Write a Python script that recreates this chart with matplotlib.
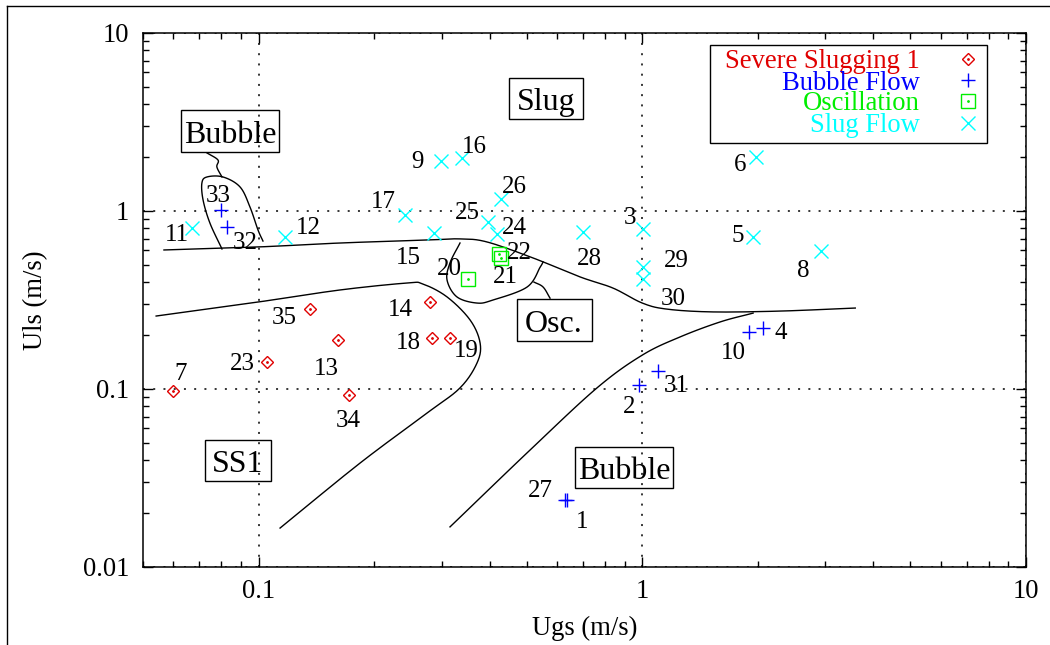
import numpy as np
import matplotlib
matplotlib.use('Agg')
import matplotlib.pyplot as plt
from matplotlib.lines import Line2D
from matplotlib.patches import Rectangle
from matplotlib.ticker import FixedLocator, FixedFormatter, LogLocator, NullFormatter

plt.rcParams['font.family'] = ['Liberation Serif', 'DejaVu Serif']

W, H = 1050, 645

# ---- measured points (Ugs, Uls in m/s) ----
ss1_ids = [7, 23, 35, 13, 34, 14, 18, 19]
ss1_ugs = [0.060, 0.105, 0.136, 0.161, 0.172, 0.280, 0.283, 0.316]
ss1_uls = [0.0975, 0.142, 0.281, 0.189, 0.0925, 0.308, 0.193, 0.193]

bub_ids = [33, 32, 2, 31, 27, 1, 10, 4]
bub_ugs = [0.080, 0.083, 0.981, 1.10, 0.629, 0.637, 1.90, 2.06]
bub_uls = [1.01, 0.813, 0.105, 0.126, 0.0238, 0.0238, 0.209, 0.220]

osc_ids = [20, 21, 22]
osc_ugs = [0.352, 0.428, 0.423]
osc_uls = [0.415, 0.545, 0.573]

slug_ids = [11, 12, 9, 16, 26, 17, 15, 25, 24, 28, 3, 29, 30, 6, 5, 8]
slug_ugs = [0.067, 0.117, 0.299, 0.339, 0.428, 0.241, 0.287, 0.396, 0.418,
            0.701, 1.005, 1.005, 1.005, 1.98, 1.945, 2.92]
slug_uls = [0.803, 0.714, 1.91, 1.99, 1.17, 0.950, 0.752, 0.868, 0.743,
            0.762, 0.792, 0.485, 0.415, 2.01, 0.714, 0.596]

# ---- flow regime boundaries ----
upper_ugs = [0.0567, 0.0997, 0.163, 0.275, 0.335, 0.394, 0.519, 0.689, 0.839,
             1.00, 1.16, 1.53, 2.29, 3.59]
upper_uls = [0.604, 0.628, 0.661, 0.687, 0.697, 0.670, 0.545, 0.426, 0.369,
             0.304, 0.281, 0.271, 0.274, 0.285]

ss1_bnd_ugs = [0.0541, 0.0997, 0.163, 0.244, 0.268, 0.310, 0.356, 0.378, 0.371,
               0.335, 0.275, 0.184, 0.1138]
ss1_bnd_uls = [0.257, 0.308, 0.360, 0.394, 0.389, 0.329, 0.244, 0.181, 0.140,
               0.1014, 0.0733, 0.0384, 0.01655]

bub_bnd_ugs = [0.3155, 0.510, 0.762, 1.00, 1.254, 1.595, 1.945]
bub_bnd_uls = [0.0168, 0.0454, 0.1014, 0.155, 0.196, 0.238, 0.267]

osc_bnd_ugs = [0.335, 0.3155, 0.310, 0.329, 0.371, 0.408, 0.501, 0.542, 0.5515]
osc_bnd_uls = [0.661, 0.511, 0.409, 0.329, 0.304, 0.316, 0.374, 0.484, 0.517]

bub_loop_ugs = [0.0803, 0.0747, 0.0717, 0.0712, 0.0734, 0.0808, 0.0895, 0.0950,
                0.0997, 0.1027]
bub_loop_uls = [0.612, 0.856, 1.153, 1.437, 1.553, 1.553, 1.365, 1.053, 0.782,
                0.678]

bub_lead_ugs = [0.0734, 0.0784, 0.0779, 0.0803]
bub_lead_uls = [2.12, 1.934, 1.767, 1.553]

osc_lead_ugs = [0.522, 0.5515, 0.575]
osc_lead_uls = [0.399, 0.374, 0.324]

# label offsets (pixels, dx, dy up) for the point numbers
label_offsets = {
    7: (7, 19), 23: (-24, 0), 35: (-26, -6), 13: (-12, -27), 34: (-1, -23),
    14: (-30, -5), 18: (-24, -2), 19: (16, -10),
    33: (-3, 17), 32: (18, -13), 2: (-10, -19), 31: (18, -12), 27: (-25, 11),
    1: (15, -20), 10: (-16, -18), 4: (18, -2),
    20: (-19, 12), 21: (5, -17), 22: (21, 4),
    11: (-15, -5), 12: (24, 12), 9: (-24, 1), 16: (12, 13), 26: (14, 14),
    17: (-22, 15), 15: (-26, -22), 25: (-21, 11), 24: (17, 8), 28: (6, -24),
    3: (-13, 14), 29: (33, 8), 30: (30, -18), 6: (-16, -5), 5: (-15, 4),
    8: (-18, -17),
}

RED, BLUE, GREEN, CYAN = '#e00000', '#0000ff', '#00ee00', '#00ffff'


def px(x, y):
    return x / W, 1 - y / H


def smooth(xs, ys, n=14):
    # catmull-rom through the traced points, done in log space
    p = np.column_stack([np.log10(xs), np.log10(ys)])
    p = np.vstack([2 * p[0] - p[1], p, 2 * p[-1] - p[-2]])
    t = np.linspace(0, 1, n, endpoint=False)[:, None]
    out = []
    for i in range(1, len(p) - 2):
        p0, p1, p2, p3 = p[i - 1], p[i], p[i + 1], p[i + 2]
        out.append(0.5 * (2 * p1 + (-p0 + p2) * t
                          + (2 * p0 - 5 * p1 + 4 * p2 - p3) * t ** 2
                          + (-p0 + 3 * p1 - 3 * p2 + p3) * t ** 3))
    out.append(p[-2][None])
    out = np.vstack(out)
    return 10 ** out[:, 0], 10 ** out[:, 1]


fig = plt.figure(figsize=(W / 100, H / 100), dpi=100)
ax = fig.add_axes([143 / W, 1 - 567 / H, 883 / W, 534 / H])
ax.set_xscale('log')
ax.set_yscale('log')
ax.set_xlim(0.05, 10)
ax.set_ylim(0.01, 10)

ax.xaxis.set_major_locator(FixedLocator([0.1, 1, 10]))
ax.xaxis.set_major_formatter(FixedFormatter(['0.1', '1', '10']))
ax.yaxis.set_major_locator(FixedLocator([0.01, 0.1, 1, 10]))
ax.yaxis.set_major_formatter(FixedFormatter(['0.01', '0.1', '1', '10']))
for a in (ax.xaxis, ax.yaxis):
    a.set_minor_locator(LogLocator(base=10, subs=range(2, 10)))
    a.set_minor_formatter(NullFormatter())
ax.tick_params(which='both', direction='in', top=True, right=True, width=1.0,
               labelsize=19.2)
ax.tick_params(which='major', length=7.5)
ax.tick_params(which='minor', length=4.3)
ax.tick_params(axis='y', pad=10)
ax.tick_params(axis='x', pad=9)
for s in ax.spines.values():
    s.set_linewidth(1.1)

ax.grid(True, which='major', color='black', linestyle=(0, (1.3, 5.4)), linewidth=1.1)

ax.set_xlabel('Ugs (m/s)', fontsize=19.2)
ax.set_ylabel('Uls (m/s)', fontsize=19.2)
ax.xaxis.set_label_coords((585 - 143) / 883, (567 - 625) / 534)
ax.xaxis.label.set_va('center_baseline')
ax.yaxis.set_label_coords((33 - 143) / 883, 1 - (300 - 33) / 534)
ax.yaxis.label.set_va('center_baseline')

# boundaries
for xs, ys in [(upper_ugs, upper_uls), (ss1_bnd_ugs, ss1_bnd_uls),
               (bub_bnd_ugs, bub_bnd_uls), (osc_bnd_ugs, osc_bnd_uls),
               (bub_loop_ugs, bub_loop_uls), (bub_lead_ugs, bub_lead_uls),
               (osc_lead_ugs, osc_lead_uls)]:
    sx, sy = smooth(xs, ys)
    ax.plot(sx, sy, color='black', lw=1.0)

# points
ax.plot(ss1_ugs, ss1_uls, 'D', ms=6.6, mfc='none', mec=RED, mew=1.0)
ax.plot(ss1_ugs, ss1_uls, '.', ms=2, color=RED)
ax.plot(bub_ugs, bub_uls, '+', ms=9.4, mec=BLUE, mew=1.0)
ax.plot(osc_ugs, osc_uls, 's', ms=9.4, mfc='none', mec=GREEN, mew=1.0)
ax.plot(osc_ugs, osc_uls, '.', ms=2, color=GREEN)
ax.plot(slug_ugs, slug_uls, 'x', ms=9.4, mec=CYAN, mew=1.0)

for ids, xs, ys in [(ss1_ids, ss1_ugs, ss1_uls), (bub_ids, bub_ugs, bub_uls),
                    (osc_ids, osc_ugs, osc_uls), (slug_ids, slug_ugs, slug_uls)]:
    for i, x, y in zip(ids, xs, ys):
        ax.annotate(str(i), (x, y), xytext=label_offsets[i], textcoords='offset pixels',
                    ha='center', va='center_baseline', fontsize=18)

# region labels with boxes (centre x, centre y, width, height in pixels)
region_boxes = [('Bubble', 230, 131, 98, 42), ('Slug', 546, 98, 74, 41),
                ('SS1', 238, 460, 66, 41), ('Bubble', 624, 467, 98, 41),
                ('Osc.', 554, 320, 75, 42)]
for txt, cx, cy, w, h in region_boxes:
    fig.add_artist(Rectangle(px(cx - w / 2, cy + h / 2), w / W, h / H,
                             transform=fig.transFigure, fill=False,
                             ec='black', lw=1.0))
    fig.text(*px(cx, cy + 1), txt, ha='center', va='center_baseline', fontsize=23)

# legend drawn gnuplot style: right aligned text, marker on the right
fig.add_artist(Rectangle(px(710, 143), 277 / W, 98 / H, transform=fig.transFigure,
                         fill=True, fc='white', ec='black', lw=1.0, zorder=5))
legend_rows = [('Severe Slugging 1', RED, 'D', 6.6, 59),
               ('Bubble Flow', BLUE, '+', 9.4, 80),
               ('Oscillation', GREEN, 's', 9.4, 101),
               ('Slug Flow', CYAN, 'x', 9.4, 123)]
for txt, col, mk, ms, y in legend_rows:
    fig.text(*px(920, y), txt, ha='right', va='center_baseline', fontsize=19.2,
             color=col, zorder=6)
    x0, y0 = px(968, y)
    fig.add_artist(Line2D([x0], [y0], marker=mk, ms=ms, mfc='none', mec=col,
                          mew=1.0, transform=fig.transFigure, zorder=6))
    if mk in ('D', 's'):
        fig.add_artist(Line2D([x0], [y0], marker='.', ms=2, color=col,
                              transform=fig.transFigure, zorder=6))

# outer frame (top and left edges)
fig.add_artist(Line2D([7 / W, 1], [1 - 5.5 / H, 1 - 5.5 / H], color='black', lw=1.0,
                      transform=fig.transFigure))
fig.add_artist(Line2D([7 / W, 7 / W], [0, 1 - 5.5 / H], color='black', lw=1.0,
                      transform=fig.transFigure))

fig.savefig('out.png', dpi=100)
